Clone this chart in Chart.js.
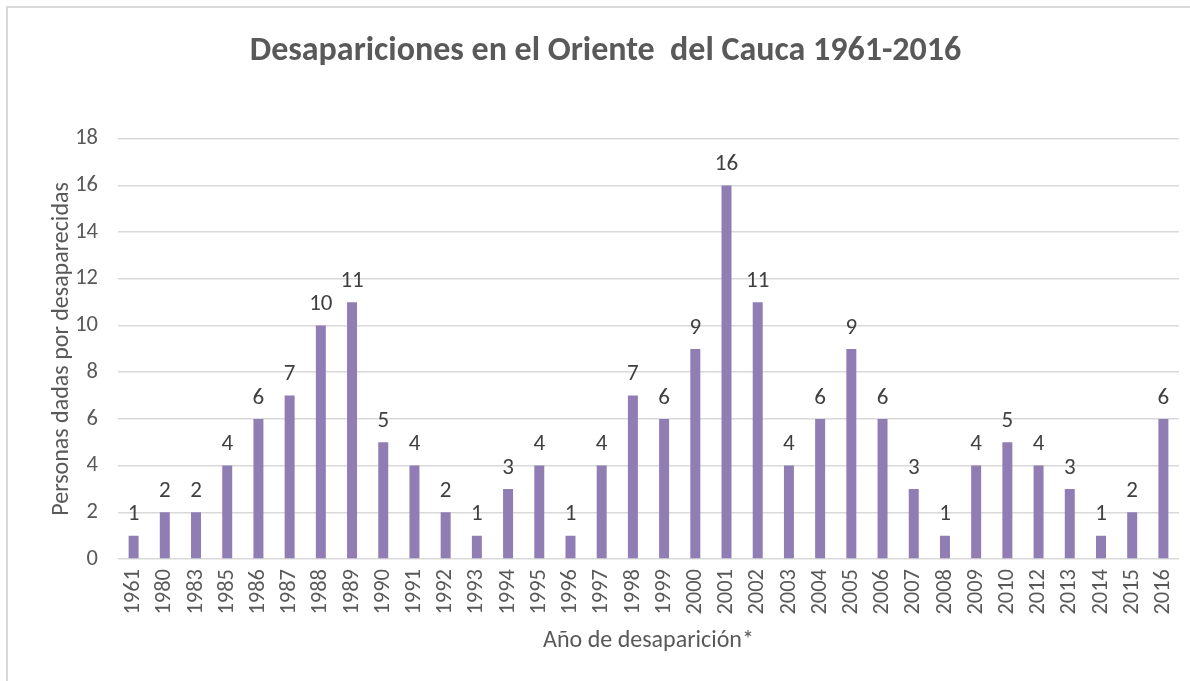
<!DOCTYPE html>
<html>
<head>
<meta charset="utf-8">
<script src="https://cdn.jsdelivr.net/npm/chart.js@4"></script>
<style>
  html, body { margin: 0; padding: 0; background: #fff; overflow: hidden; }
  #frame { position: absolute; left: 6px; top: 6px; width: 1300px; height: 800px; border-left: 2px solid #d9d9d9; border-top: 2px solid #d9d9d9; background: #fff; }
  #wrap { position: absolute; left: 0; top: 0; width: 1190px; height: 681px; }
</style>
</head>
<body>
<div id="frame"></div>
<div id="wrap"><canvas id="c" width="1190" height="681"></canvas></div>
<script>
const categories = ['1961','1980','1983','1985','1986','1987','1988','1989','1990','1991','1992','1993','1994','1995','1996','1997','1998','1999','2000','2001','2002','2003','2004','2005','2006','2007','2008','2009','2010','2012','2013','2014','2015','2016'];
const values = [1,2,2,4,6,7,10,11,5,4,2,1,3,4,1,4,7,6,9,16,11,4,6,9,6,3,1,4,5,4,3,1,2,6];
const yTicks = [0,2,4,6,8,10,12,14,16,18];
const chartTitle = 'Desapariciones en el Oriente  del Cauca 1961-2016';
const xTitle = 'Año de desaparición*';
const yTitle = 'Personas dadas por desaparecidas';

const FONT = 'Carlito, Lato, "Open Sans", sans-serif';

const valueLabels = {
  id: 'valueLabels',
  afterDatasetsDraw(chart) {
    const ctx = chart.ctx;
    const meta = chart.getDatasetMeta(0);
    ctx.save();
    ctx.font = '23px ' + FONT;
    ctx.fillStyle = '#404040';
    ctx.textAlign = 'center';
    ctx.textBaseline = 'middle';
    meta.data.forEach((bar, i) => {
      ctx.fillText(String(values[i]), bar.x, bar.y - 21);
    });
    ctx.restore();
  }
};

new Chart(document.getElementById('c'), {
  type: 'bar',
  data: {
    labels: categories,
    datasets: [{
      data: values,
      backgroundColor: '#8f7db4',
      borderWidth: 0,
      barPercentage: 0.32,
      categoryPercentage: 1.0
    }]
  },
  options: {
    responsive: false,
    animation: false,
    layout: { padding: { left: 32, right: 11, top: 0, bottom: 15 } },
    plugins: {
      legend: { display: false },
      tooltip: { enabled: false },
      title: {
        display: true,
        text: chartTitle,
        color: '#595959',
        font: { family: FONT, size: 34, weight: 'bold' },
        padding: { top: 31, bottom: 67 }
      }
    },
    scales: {
      x: {
        grid: { display: false, drawTicks: false },
        border: { display: false },
        ticks: {
          color: '#595959',
          font: { family: FONT, size: 22.5 },
          minRotation: 90,
          maxRotation: 90,
          autoSkip: false,
          padding: 10
        },
        title: {
          display: true,
          text: xTitle,
          color: '#595959',
          font: { family: FONT, size: 24 },
          padding: { top: 0, bottom: 10.5 }
        },
        afterFit(scale) { scale.height = 107; scale.paddingLeft = 0; scale.paddingRight = 0; }
      },
      y: {
        min: 0,
        max: 18,
        afterBuildTicks(scale) { scale.ticks = yTicks.map(v => ({ value: v })); },
        grid: { color: '#d9d9d9', lineWidth: 1.5, drawTicks: false },
        border: { display: false },
        ticks: {
          color: '#595959',
          font: { family: FONT, size: 22.5 },
          padding: 20
        },
        title: {
          display: true,
          text: yTitle,
          color: '#595959',
          font: { family: FONT, size: 24 },
          padding: { top: 15.5, bottom: 0 }
        },
        afterFit(scale) { scale.width = 86; }
      }
    }
  },
  plugins: [valueLabels]
});
</script>
</body>
</html>
